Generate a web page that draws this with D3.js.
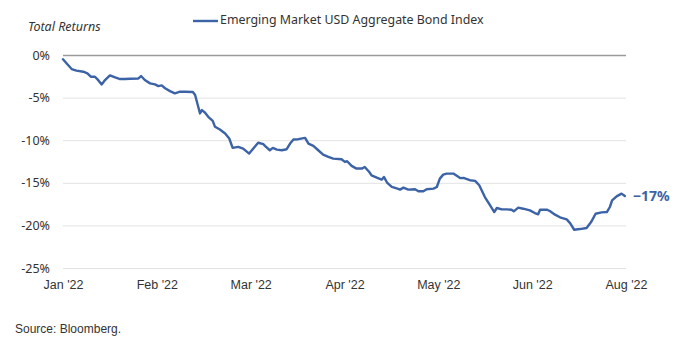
<!DOCTYPE html>
<html>
<head>
<meta charset="utf-8">
<script src="https://cdn.jsdelivr.net/npm/d3@7"></script>
<style>
  html, body { margin: 0; padding: 0; background: #fff; }
  svg { display: block; }
</style>
</head>
<body>
<svg id="chart" width="699" height="349"></svg>
<script>
// Emerging Market USD Aggregate Bond Index, cumulative total return (%) in 2022
const dayIndex = [
  0, 1.1, 2.3, 3.6, 5.4, 6.5, 7.4, 8.5, 9.2, 10.3, 11.2, 12.5, 13.9, 15.2, 16.5, 17.8,
  20.1, 20.8, 21.8, 23.2, 24.5, 25.4, 26.3, 27.2, 28.5, 29.8, 31.2, 32.5, 34.6, 35.2,
  35.8, 36.5, 37.0, 37.8, 38.7, 39.9, 40.5, 41.8, 43.2, 44.3, 45.2, 46.7, 48.0, 49.6,
  50.7, 52.0, 53.4, 53.8, 55.1, 55.9, 57.0, 58.3, 59.6, 60.5, 61.4, 62.7, 64.5, 65.4,
  66.7, 68.0, 69.3, 70.7, 72.0, 74.2, 75.1, 75.7, 76.9, 78.2, 79.6, 80.4, 81.6, 82.2,
  83.6, 84.9, 85.5, 86.4, 87.6, 89.1, 89.8, 90.7, 92.0, 93.8, 94.7, 96.0, 96.9, 98.7,
  99.6, 100.4, 101.3, 102.2, 104.0, 105.8, 106.7, 108.4, 109.8, 110.9, 112.4, 113.8,
  114.9, 115.6, 116.9, 118.2, 119.5, 120.1, 121.3, 122.6, 124.4, 125.7, 126.6, 127.1,
  128.9, 129.7, 131.1, 132.4, 134.2, 135.1, 136.2, 137.7, 139.5, 140.7, 141.9, 143.5,
  144.9, 145.7, 146.3, 147.5, 148.8, 149.7
];
const totalReturn = [
  -0.5, -1.06, -1.65, -1.84, -1.96, -2.16, -2.55, -2.55, -2.86, -3.45, -2.94, -2.39, -2.63, -2.82, -2.82, -2.78,
  -2.75, -2.47, -2.94, -3.33, -3.45, -3.65, -3.57, -3.9, -4.24, -4.5, -4.31, -4.31, -4.35, -4.7,
  -5.69, -6.86, -6.47, -6.75, -7.25, -7.73, -8.43, -8.75, -9.22, -9.8, -10.9, -10.78, -10.98, -11.57,
  -10.98, -10.3, -10.47, -10.67, -11.18, -10.9, -11.1, -11.18, -11.06, -10.4, -9.92, -9.88, -9.73, -10.4,
  -10.67, -11.18, -11.69, -11.96, -12.16, -12.24, -12.55, -12.47, -13.02, -13.33, -13.33, -13.14, -13.73, -14.12,
  -14.39, -14.63, -14.31, -15.02, -15.49, -15.69, -15.8, -15.57, -15.8, -15.76, -16.0, -16.0, -15.76, -15.69,
  -15.49, -14.51, -14.04, -13.92, -13.92, -14.45, -14.43, -14.7, -14.78, -15.29, -16.67, -17.65,
  -18.43, -17.96, -18.12, -18.12, -18.16, -18.35, -17.92, -18.04, -18.24, -18.55, -18.7, -18.16,
  -18.16, -18.31, -18.74, -19.05, -19.29, -19.73, -20.51, -20.43, -20.31, -19.61, -18.63, -18.47,
  -18.43, -17.84, -17.06, -16.59, -16.27, -16.55
];
const xTickPositions = [0, 25, 50, 75, 100, 125, 150];
const xTickLabels = ["Jan '22", "Feb '22", "Mar '22", "Apr '22", "May '22", "Jun '22", "Aug '22"];
const yTicks = [0, -5, -10, -15, -20, -25];
const seriesName = "Emerging Market USD Aggregate Bond Index";

const lineColor = "#3c63a6";
const textColor = "#333333";
const plexLike = "'Noto Sans', 'Open Sans', sans-serif";
const arialLike = "'Liberation Sans', Arial, sans-serif";

const svg = d3.select("#chart");
const margin = { left: 63, right: 73, top: 55, bottom: 81 };
const width = 699 - margin.left - margin.right;
const height = 349 - margin.top - margin.bottom;

const x = d3.scaleLinear().domain([0, 150]).range([0, width]);
const y = d3.scaleLinear().domain([0, -25]).range([0, height]);

const g = svg.append("g").attr("transform", `translate(${margin.left},${margin.top})`);

// horizontal gridlines with y labels
const yAxis = d3.axisLeft(y)
  .tickValues(yTicks)
  .tickSize(-width)
  .tickPadding(13)
  .tickFormat(d => d + "%");
const yG = g.append("g").call(yAxis);
yG.select(".domain").remove();
yG.selectAll(".tick line")
  .attr("stroke", d => d === 0 ? "#9a9a9a" : "#e3e3e3")
  .attr("stroke-width", d => d === 0 ? 1.5 : 1);
yG.selectAll(".tick text")
  .attr("fill", textColor)
  .style("font-family", plexLike)
  .style("font-size", "12.5px");

// x axis labels (no line, no ticks)
const xAxis = d3.axisBottom(x)
  .tickValues(xTickPositions)
  .tickSize(0)
  .tickPadding(12)
  .tickFormat((d, i) => xTickLabels[i]);
const xG = g.append("g").attr("transform", `translate(0,${height})`).call(xAxis);
xG.select(".domain").remove();
xG.selectAll(".tick text")
  .attr("fill", textColor)
  .style("font-family", arialLike)
  .style("font-size", "12.5px");

// the index line
const points = dayIndex.map((d, i) => [d, totalReturn[i]]);
const line = d3.line().x(d => x(d[0])).y(d => y(d[1])).curve(d3.curveLinear);
g.append("path")
  .datum(points)
  .attr("fill", "none")
  .attr("stroke", lineColor)
  .attr("stroke-width", 2.4)
  .attr("stroke-linejoin", "round")
  .attr("stroke-linecap", "round")
  .attr("d", line);

// end-of-series value label
const last = points[points.length - 1];
g.append("text")
  .attr("x", x(last[0]) + 8)
  .attr("y", y(last[1]) + 1)
  .attr("dominant-baseline", "middle")
  .attr("fill", lineColor)
  .style("font-family", plexLike)
  .style("font-weight", "bold")
  .style("font-size", "14px")
  .text(d3.format(".0f")(last[1]) + "%");

// y-axis title
svg.append("text")
  .attr("x", 28)
  .attr("y", 31)
  .attr("fill", textColor)
  .style("font-family", plexLike)
  .style("font-style", "italic")
  .style("font-size", "12.5px")
  .text("Total Returns");

// legend
const legend = svg.append("g").attr("transform", "translate(193,21)");
legend.append("line")
  .attr("x1", 0).attr("x2", 25).attr("y1", 0).attr("y2", 0)
  .attr("stroke", lineColor).attr("stroke-width", 2.4);
legend.append("text")
  .attr("x", 27)
  .attr("y", 0)
  .attr("dominant-baseline", "middle")
  .attr("fill", textColor)
  .style("font-family", plexLike)
  .style("font-size", "12.4px")
  .text(seriesName);

// source note
svg.append("text")
  .attr("x", 15)
  .attr("y", 333)
  .attr("fill", textColor)
  .style("font-family", arialLike)
  .style("font-size", "12px")
  .text("Source: Bloomberg.");
</script>
</body>
</html>
